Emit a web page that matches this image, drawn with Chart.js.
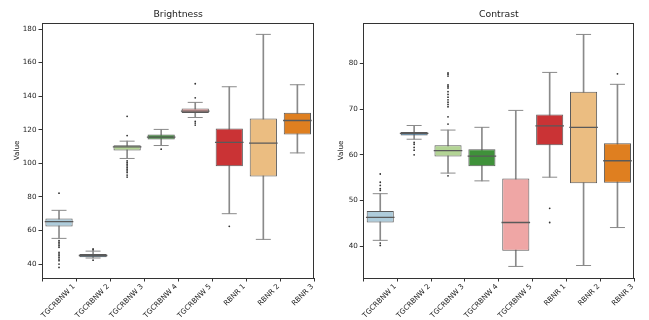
<!DOCTYPE html>
<html>
<head>
<meta charset="utf-8">
<script src="https://cdn.jsdelivr.net/npm/chart.js@4"></script>
<style>
  body { margin: 0; background: #fff; width: 649px; height: 320px; overflow: hidden; position: relative; }
  canvas { position: absolute; top: 0; }
  #brightnessChart { left: 0; }
  #contrastChart { left: 330px; }
</style>
</head>
<body>
<canvas id="brightnessChart" width="330" height="320"></canvas>
<canvas id="contrastChart" width="320" height="320"></canvas>
<script>
const labels = ["TGCRBNW 1", "TGCRBNW 2", "TGCRBNW 3", "TGCRBNW 4", "TGCRBNW 5", "RBNR 1", "RBNR 2", "RBNR 3"];
const boxColors = ["#aeccdb", "#3275a1", "#b3d495", "#3f913a", "#efa6a5", "#ca3335", "#ebbd81", "#df7f20"];

// Brightness
const bLow  = [55.3, 43.6, 102.9, 110.6, 127.3, 70.0, 54.7, 106.2];
const bQ1   = [62.3, 44.1, 107.6, 114.2, 129.9, 98.3, 92.1, 117.2];
const bMed  = [65.3, 45.1, 109.8, 115.6, 131.1, 112.5, 112.0, 125.5];
const bQ3   = [67.1, 46.0, 110.8, 117.2, 132.7, 120.8, 126.7, 130.1];
const bHigh = [72.0, 47.7, 113.2, 120.2, 136.3, 145.6, 176.8, 146.8];
const bOutliers = [
  [82.2, 54, 53, 52, 51, 50, 47, 46, 45, 44, 43, 42, 40, 38],
  [49.0, 48.5, 42.3],
  [128, 116.5, 101.5, 100.5, 99.5, 98.5, 97.5, 96.5, 95.5, 94.5, 93, 91.8],
  [108.4],
  [147.4, 139, 125, 124, 122.8],
  [62.5],
  [],
  []
];
const bTicks = [40, 60, 80, 100, 120, 140, 160, 180];

// Contrast
const cLow  = [41.3, 63.4, 56.0, 54.3, 35.6, 55.1, 35.8, 44.1];
const cQ1   = [45.2, 64.2, 59.6, 57.5, 39.0, 62.1, 53.8, 53.9];
const cMed  = [46.3, 64.7, 60.9, 59.7, 45.2, 66.3, 66.0, 58.7];
const cQ3   = [47.7, 65.0, 62.1, 61.2, 54.8, 68.8, 73.8, 62.5];
const cHigh = [51.5, 66.4, 65.4, 66.0, 69.7, 78.0, 86.3, 75.4];
const cOutliers = [
  [55.8, 54, 53.3, 52.6, 52.2, 40.7, 40.2],
  [62.7, 62.3, 61.6, 61.0, 60.0],
  [77.9, 77.6, 77.2, 75.3, 75.0, 74.6, 73.8, 73.2, 72.6, 72.0, 71.5, 71.0, 70.5, 68.3, 66.7, 55.4],
  [],
  [],
  [48.3, 45.2],
  [],
  [77.7]
];
const cTicks = [40, 50, 60, 70, 80];

const lineGray = "#5a5a5a";
const whiskerGray = "#8a8a8a";
const textColor = "#222";
const fontFamily = "'DejaVu Sans', sans-serif";

const framePlugin = {
  id: "frame",
  afterDraw(chart) {
    const { ctx, chartArea: a } = chart;
    ctx.save();
    ctx.strokeStyle = "#333";
    ctx.lineWidth = 1;
    const l = Math.round(a.left) + 0.5, t = Math.round(a.top) + 0.5;
    const r = Math.round(a.right) - 0.5, b = Math.round(a.bottom) + 0.5;
    ctx.strokeRect(l, t, r - l, b - t);
    ctx.restore();
  }
};

function makeBoxChart(canvasId, title, lo, q1, med, q3, hi, outliers, yMin, yMax, yTicks, yWidth, valuePad) {
  const caps = [];
  const medians = [];
  const fliers = [];
  labels.forEach((cat, i) => {
    caps.push({ x: cat, y: lo[i] }, { x: cat, y: hi[i] });
    medians.push({ x: cat, y: med[i] });
    outliers[i].forEach(v => fliers.push({ x: cat, y: v }));
  });

  return new Chart(document.getElementById(canvasId), {
    type: "bar",
    data: {
      labels: labels,
      datasets: [
        {
          type: "bar",
          data: labels.map((_, i) => [q1[i], q3[i]]),
          backgroundColor: boxColors,
          borderColor: lineGray,
          borderWidth: 1,
          borderSkipped: false,
          barPercentage: 0.8,
          categoryPercentage: 1,
          grouped: false,
          order: 2
        },
        {
          type: "bar",
          data: labels.map((_, i) => [lo[i], hi[i]]),
          backgroundColor: whiskerGray,
          barThickness: 1,
          grouped: false,
          order: 4
        },
        {
          type: "line",
          data: caps,
          showLine: false,
          pointStyle: "line",
          pointRadius: 7.5,
          pointBorderColor: whiskerGray,
          pointBorderWidth: 1,
          order: 3
        },
        {
          type: "line",
          data: medians,
          showLine: false,
          pointStyle: "line",
          pointRadius: 14.3,
          pointBorderColor: lineGray,
          pointBorderWidth: 1.3,
          order: 1
        },
        {
          type: "line",
          data: fliers,
          showLine: false,
          pointStyle: "circle",
          pointRadius: 0.9,
          pointBackgroundColor: "#333",
          pointBorderWidth: 0,
          order: 0
        }
      ]
    },
    options: {
      responsive: false,
      animation: false,
      events: [],
      layout: { padding: { left: 0, right: canvasId === "contrastChart" ? 0 : 1, top: 0, bottom: 0 } },
      plugins: {
        legend: { display: false },
        tooltip: { enabled: false },
        title: {
          display: true,
          text: title,
          fullSize: false,
          color: textColor,
          font: { family: fontFamily, size: 9.3, weight: "normal", lineHeight: 1.2 },
          padding: { top: 9.4, bottom: 2.4 }
        }
      },
      scales: {
        x: {
          type: "category",
          grid: { display: true, drawOnChartArea: false, drawTicks: true, tickLength: 3.5, color: "#333" },
          border: { display: false },
          ticks: {
            autoSkip: false,
            maxRotation: 45,
            minRotation: 45,
            labelOffset: 15,
            padding: 1,
            color: textColor,
            font: { family: fontFamily, size: 7.2 }
          },
          afterFit(scale) {
            scale.height = 42;
            scale.paddingLeft = 0;
            scale.paddingRight = 0;
          }
        },
        y: {
          type: "linear",
          min: yMin,
          max: yMax,
          afterBuildTicks(scale) {
            scale.ticks = yTicks.map(v => ({ value: v }));
          },
          grid: { display: true, drawOnChartArea: false, drawTicks: true, tickLength: 3.5, color: "#333" },
          border: { display: false },
          ticks: {
            padding: 2,
            color: textColor,
            font: { family: fontFamily, size: 7.2 }
          },
          title: {
            display: true,
            text: "Value",
            color: textColor,
            font: { family: fontFamily, size: 7.2 },
            padding: { top: valuePad, bottom: 0 }
          },
          afterFit(scale) {
            scale.width = yWidth;
            scale.paddingTop = 0;
            scale.paddingBottom = 0;
          }
        }
      }
    },
    plugins: [framePlugin]
  });
}

makeBoxChart("brightnessChart", "Brightness", bLow, bQ1, bMed, bQ3, bHigh, bOutliers, 31.7, 183.6, bTicks, 42, 12.5);
makeBoxChart("contrastChart", "Contrast", cLow, cQ1, cMed, cQ3, cHigh, cOutliers, 33.07, 88.81, cTicks, 33.3, 7);
</script>
</body>
</html>
